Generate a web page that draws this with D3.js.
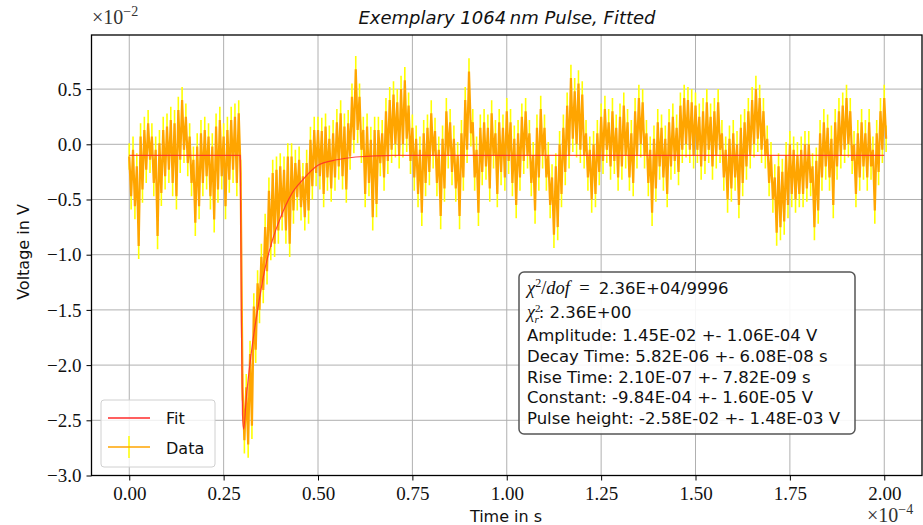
<!DOCTYPE html>
<html>
<head>
<meta charset="utf-8">
<script src="https://cdn.jsdelivr.net/npm/d3@7"></script>
<style>
  body { margin: 0; background: #fff; }
  svg { display: block; }
</style>
</head>
<body>
<svg id="chart"></svg>
<script>
// time axis in units of 1e-4 s, voltage in units of 1e-2 V
const sampleStep = 0.01;
const sampleTimes = d3.range(0, 2.0001, sampleStep);

// upper / lower edge of the measured trace, read per sample
const dataHigh = [
  -0.11, -0.05, -0.20, 0.07, 0.13, 0.19, 0.07, -0.05, 0.01, 0.13,
  0.16, 0.22, 0.19, 0.31, 0.40, 0.25, 0.07, -0.14, -0.02, 0.10,
  0.13, 0.07, -0.02, 0.16, 0.22, 0.07, 0.13, 0.22, 0.25, 0.28,
  -2.20, -2.20, -1.90, -1.47, -1.26, -1.02, -0.75, -0.42, -0.26, -0.23,
  -0.20, -0.23, -0.11, -0.11, -0.17, -0.14, -0.29, -0.17, 0.04, 0.13,
  0.13, 0.12, 0.16, 0.05, 0.10, 0.20, 0.28, 0.16, 0.19, 0.43,
  0.68, 0.43, 0.13, 0.16, 0.04, 0.13, 0.13, 0.10, 0.30, 0.40,
  0.45, 0.38, 0.50, 0.58, 0.35, 0.15, 0.05, -0.05, 0.10, 0.15,
  0.28, 0.12, -0.05, 0.05, 0.30, 0.20, 0.05, -0.10, 0.10, 0.40,
  0.66, 0.20, -0.05, 0.15, 0.20, 0.15, 0.28, 0.10, 0.20, 0.15,
  0.30, 0.20, 0.05, 0.10, 0.25, 0.30, 0.10, -0.10, 0.15, 0.32,
  0.15, -0.10, -0.30, -0.20, 0.00, 0.15, 0.35, 0.60, 0.48, 0.55,
  0.45, 0.10, -0.05, 0.00, 0.10, 0.25, 0.32, 0.20, 0.30, 0.15,
  0.25, 0.35, 0.20, 0.10, 0.30, 0.42, 0.38, 0.10, -0.05, 0.05,
  0.20, 0.15, 0.05, 0.20, 0.25, 0.15, 0.35, 0.42, 0.40, 0.38,
  0.35, 0.25, 0.30, 0.38, 0.25, 0.30, 0.38, 0.10, -0.05, 0.05,
  0.10, 0.00, 0.15, 0.20, 0.30, 0.40, 0.50, 0.42, 0.30, 0.05,
  -0.10, -0.30, -0.20, -0.25, -0.10, 0.00, -0.05, -0.10, -0.05, 0.00,
  0.00, -0.20, -0.15, 0.10, 0.20, 0.15, 0.05, 0.20, 0.30, 0.35,
  0.42, 0.30, 0.00, 0.10, 0.20, 0.10, 0.20, -0.05, 0.10, 0.30,
  0.42
];
const dataLow = [
  -0.47, -0.56, -0.92, -0.41, -0.23, -0.14, -0.35, -0.83, -0.44, -0.29,
  -0.23, -0.35, -0.47, -0.14, -0.05, -0.17, -0.35, -0.71, -0.56, -0.35,
  -0.29, -0.47, -0.68, -0.41, -0.29, -0.56, -0.32, -0.23, -0.35, -0.26,
  -2.68, -2.72, -2.55, -1.86, -1.50, -1.32, -1.15, -0.93, -0.90, -0.78,
  -0.66, -0.78, -0.90, -0.60, -0.48, -0.57, -0.66, -0.60, -0.38, -0.26,
  -0.29, -0.45, -0.30, -0.40, -0.30, -0.20, -0.29, -0.41, -0.11, 0.04,
  0.13, -0.05, -0.45, -0.35, -0.66, -0.54, -0.17, -0.30, -0.15, -0.05,
  0.00, -0.10, 0.00, 0.05, -0.15, -0.30, -0.45, -0.62, -0.35, -0.25,
  -0.10, -0.35, -0.65, -0.40, -0.10, -0.25, -0.40, -0.65, -0.30, -0.05,
  0.10, -0.30, -0.62, -0.25, -0.20, -0.40, -0.10, -0.45, -0.25, -0.30,
  -0.15, -0.35, -0.55, -0.30, -0.15, -0.10, -0.35, -0.60, -0.30, -0.10,
  -0.30, -0.55, -0.82, -0.75, -0.45, -0.25, -0.10, 0.05, 0.00, -0.05,
  -0.10, -0.30, -0.50, -0.45, -0.25, -0.15, -0.05, -0.20, -0.15, -0.30,
  -0.20, -0.10, -0.30, -0.35, -0.10, 0.00, -0.10, -0.35, -0.62, -0.40,
  -0.20, -0.30, -0.45, -0.20, -0.15, -0.25, -0.05, 0.00, -0.05, -0.10,
  -0.05, -0.20, -0.15, -0.05, -0.20, -0.10, -0.05, -0.30, -0.50, -0.40,
  -0.30, -0.55, -0.35, -0.20, -0.10, 0.00, 0.05, -0.05, -0.10, -0.35,
  -0.50, -0.80, -0.75, -0.70, -0.55, -0.45, -0.50, -0.45, -0.45, -0.40,
  -0.35, -0.75, -0.60, -0.30, -0.20, -0.30, -0.55, -0.20, -0.10, -0.05,
  0.00, -0.15, -0.45, -0.30, -0.20, -0.30, -0.20, -0.60, -0.25, -0.05,
  0.05
];
const errorSize = 0.12;

// fitted pulse
const fitTimes  = [0, 0.294, 0.297, 0.300, 0.303, 0.31, 0.32, 0.33, 0.34, 0.36, 0.38, 0.40, 0.43, 0.46, 0.50, 0.55, 0.60, 0.70, 2.0];
const fitValues = [-0.10, -0.10, -1.60, -2.45, -2.58, -2.30, -1.98, -1.72, -1.50, -1.12, -0.86, -0.67, -0.45, -0.32, -0.19, -0.14, -0.115, -0.10, -0.10];

const xTicks = [0, 0.25, 0.5, 0.75, 1.0, 1.25, 1.5, 1.75, 2.0];
const yTicks = [-3.0, -2.5, -2.0, -1.5, -1.0, -0.5, 0.0, 0.5];

const fitInfo = [
  "Amplitude: 1.45E-02 +- 1.06E-04 V",
  "Decay Time: 5.82E-06 +- 6.08E-08 s",
  "Rise Time: 2.10E-07 +- 7.82E-09 s",
  "Constant: -9.84E-04 +- 1.60E-05 V",
  "Pulse height: -2.58E-02 +- 1.48E-03 V"
];

const width = 923, height = 525;
const margin = { top: 35, right: 1, bottom: 49.5, left: 91.5 };
const serif = "'Liberation Serif', 'DejaVu Serif', serif";
const sans = "'DejaVu Sans', sans-serif";

const svg = d3.select('#chart').attr('width', width).attr('height', height);

const x = d3.scaleLinear().domain([-0.1, 2.1]).range([margin.left, width - margin.right]);
const y = d3.scaleLinear().domain([-3.0, 0.99]).range([height - margin.bottom, margin.top]);

svg.append('defs').append('clipPath').attr('id', 'plot-clip')
  .append('rect')
  .attr('x', margin.left).attr('y', margin.top)
  .attr('width', width - margin.left - margin.right)
  .attr('height', height - margin.top - margin.bottom);

// grid
const grid = svg.append('g').attr('stroke', '#b0b0b0').attr('stroke-width', 1);
grid.selectAll('.vg').data(xTicks).enter().append('line')
  .attr('x1', d => x(d)).attr('x2', d => x(d))
  .attr('y1', margin.top).attr('y2', height - margin.bottom);
grid.selectAll('.hg').data(yTicks).enter().append('line')
  .attr('x1', margin.left).attr('x2', width - margin.right)
  .attr('y1', d => y(d)).attr('y2', d => y(d));

// data trace: upper and lower edge of each sample, alternating
const points = [];
sampleTimes.forEach((t, i) => {
  points.push({ t: t, v: dataHigh[i] });
  points.push({ t: t + sampleStep / 2, v: dataLow[i] });
});

const plot = svg.append('g').attr('clip-path', 'url(#plot-clip)');

// error bars
let barPath = '';
points.forEach(p => {
  barPath += `M${x(p.t)},${y(p.v - errorSize)}V${y(p.v + errorSize)}`;
});
plot.append('path').attr('d', barPath)
  .attr('stroke', '#ffff00').attr('stroke-width', 1.6).attr('fill', 'none');

plot.append('path').datum(points)
  .attr('d', d3.line().x(d => x(d.t)).y(d => y(d.v)))
  .attr('fill', 'none').attr('stroke', '#ffa500').attr('stroke-width', 2.2)
  .attr('stroke-linejoin', 'bevel');

// fit
plot.append('path').datum(fitTimes.map((t, i) => ({ t: t, v: fitValues[i] })))
  .attr('d', d3.line().x(d => x(d.t)).y(d => y(d.v)).curve(d3.curveMonotoneX))
  .attr('fill', 'none').attr('stroke', '#ff2a2a').attr('stroke-width', 1.2).attr('opacity', 0.85);

// axes
const xAxis = svg.append('g').attr('transform', `translate(0, ${height - margin.bottom})`)
  .call(d3.axisBottom(x).tickValues(xTicks).tickFormat(d3.format('.2f')).tickSize(5).tickSizeOuter(0));
const yAxis = svg.append('g').attr('transform', `translate(${margin.left}, 0)`)
  .call(d3.axisLeft(y).tickValues(yTicks).tickFormat(d3.format('.1f')).tickSize(5).tickSizeOuter(0));
[xAxis, yAxis].forEach(a => {
  a.select('.domain').remove();
  a.selectAll('text').attr('font-family', serif).attr('font-size', 19).attr('fill', '#111');
  a.selectAll('line').attr('stroke', '#000');
});
xAxis.selectAll('text').attr('y', 24).attr('dy', 0);
yAxis.selectAll('text').attr('x', -10).attr('dy', '0.33em');

svg.append('rect')
  .attr('x', margin.left).attr('y', margin.top)
  .attr('width', width - margin.left - margin.right)
  .attr('height', height - margin.top - margin.bottom)
  .attr('fill', 'none').attr('stroke', '#000').attr('stroke-width', 1.3);

// offsets
const offY = svg.append('text').attr('x', 92).attr('y', 24)
  .attr('font-family', serif).attr('font-size', 20).attr('fill', '#333');
offY.append('tspan').text('\u00d710');
offY.append('tspan').attr('dy', -8).attr('font-size', 14).text('\u22122');
const offX = svg.append('text').attr('x', 867).attr('y', 522)
  .attr('font-family', serif).attr('font-size', 20).attr('fill', '#333');
offX.append('tspan').text('\u00d710');
offX.append('tspan').attr('dy', -8).attr('font-size', 14).text('\u22124');

// titles
svg.append('text').attr('x', 507).attr('y', 24).attr('text-anchor', 'middle')
  .attr('font-family', sans).attr('font-style', 'italic').attr('font-size', 18)
  .attr('fill', '#111').text('Exemplary 1064\u2009nm Pulse, Fitted');
svg.append('text').attr('x', 506).attr('y', 522).attr('text-anchor', 'middle')
  .attr('font-family', sans).attr('font-size', 16).attr('fill', '#111').text('Time in s');
svg.append('text').attr('transform', 'translate(29, 252) rotate(-90)').attr('text-anchor', 'middle')
  .attr('font-family', sans).attr('font-size', 16).attr('fill', '#111').text('Voltage in V');

// legend
const legend = svg.append('g');
legend.append('rect').attr('x', 101).attr('y', 400).attr('width', 114).attr('height', 67).attr('rx', 3)
  .attr('fill', '#fff').attr('fill-opacity', 0.8).attr('stroke', '#d0d0d0');
legend.append('line').attr('x1', 108).attr('x2', 150).attr('y1', 418).attr('y2', 418)
  .attr('stroke', '#ff2a2a').attr('stroke-width', 1.5);
legend.append('line').attr('x1', 129).attr('x2', 129).attr('y1', 436).attr('y2', 458)
  .attr('stroke', '#ffff00').attr('stroke-width', 1.5);
legend.append('line').attr('x1', 108).attr('x2', 150).attr('y1', 447).attr('y2', 447)
  .attr('stroke', '#ffa500').attr('stroke-width', 1.5);
legend.append('text').attr('x', 166).attr('y', 424).attr('font-family', sans).attr('font-size', 16)
  .attr('fill', '#111').text('Fit');
legend.append('text').attr('x', 166).attr('y', 454).attr('font-family', sans).attr('font-size', 16)
  .attr('fill', '#111').text('Data');

// fit result box
const box = svg.append('g');
box.append('rect').attr('x', 519).attr('y', 272).attr('width', 336).attr('height', 162).attr('rx', 5)
  .attr('fill', '#fff').attr('fill-opacity', 0.9).attr('stroke', '#555').attr('stroke-width', 1.5);

const l1 = box.append('text').attr('x', 527).attr('y', 294).attr('font-size', 16.5).attr('fill', '#111');
l1.append('tspan').attr('font-family', serif).attr('font-style', 'italic').attr('font-size', 18.5).text('\u03c7');
l1.append('tspan').attr('font-family', serif).attr('font-size', 12).attr('dy', -7).text('2');
l1.append('tspan').attr('font-family', serif).attr('font-size', 18.5).attr('dy', 7).text('/');
l1.append('tspan').attr('font-family', serif).attr('font-style', 'italic').attr('font-size', 18.5).text('dof');
l1.append('tspan').attr('font-family', serif).attr('font-size', 18.5).attr('xml:space', 'preserve').text('  =  ');
l1.append('tspan').attr('font-family', sans).text('2.36E+04/9996');

const l2 = box.append('text').attr('x', 527).attr('y', 318).attr('font-size', 16.5).attr('fill', '#111');
l2.append('tspan').attr('font-family', serif).attr('font-style', 'italic').attr('font-size', 18).text('\u03c7');
l2.append('tspan').attr('font-family', serif).attr('font-size', 11).attr('dy', -6).text('2');
l2.append('tspan').attr('font-family', serif).attr('font-style', 'italic').attr('font-size', 11)
  .attr('dx', -6).attr('dy', 11).text('r');
l2.append('tspan').attr('font-family', sans).attr('dy', -5).text(': 2.36E+00');

box.selectAll('.info').data(fitInfo).enter().append('text')
  .attr('x', 527).attr('y', (d, i) => 341 + i * 20.8)
  .attr('font-family', sans).attr('font-size', 16.5).attr('fill', '#111')
  .text(d => d);
</script>
</body>
</html>
